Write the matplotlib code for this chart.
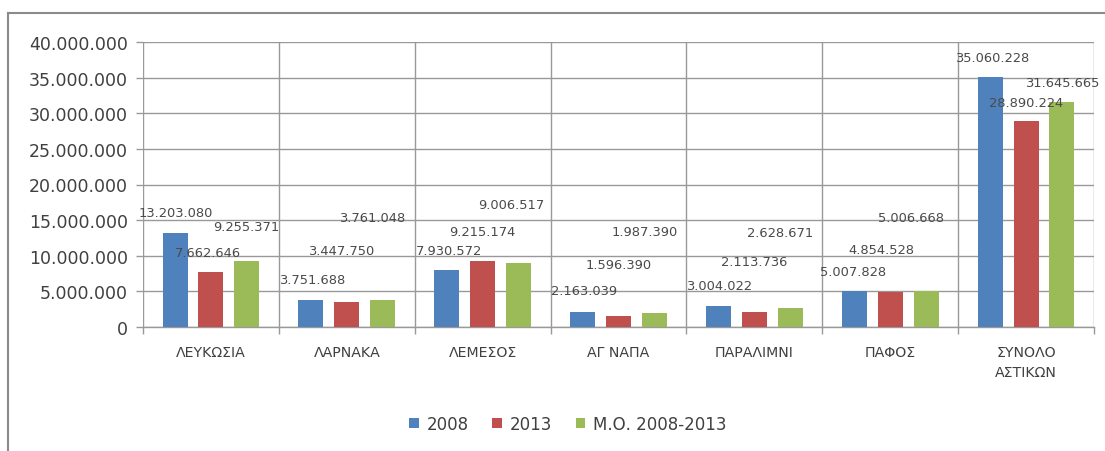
import matplotlib
matplotlib.use("Agg")
import matplotlib.pyplot as plt
from matplotlib.patches import Patch
from matplotlib.lines import Line2D
from matplotlib.ticker import FuncFormatter, MultipleLocator
import numpy as np

plt.rcParams['font.family'] = ['DejaVu Sans']

categories = ["ΛΕΥΚΩΣΙΑ", "ΛΑΡΝΑΚΑ", "ΛΕΜΕΣΟΣ", "ΑΓ ΝΑΠΑ", "ΠΑΡΑΛΙΜΝΙ", "ΠΑΦΟΣ", "ΣΥΝΟΛΟ\nΑΣΤΙΚΩΝ"]
series_names = ["2008", "2013", "Μ.Ο. 2008-2013"]
values_2008 = [13203080, 3751688, 7930572, 2163039, 3004022, 5007828, 35060228]
values_2013 = [7662646, 3447750, 9215174, 1596390, 2113736, 4854528, 28890224]
values_mo = [9255371, 3761048, 9006517, 1987390, 2628671, 5006668, 31645665]

colors = ["#4F81BD", "#C0504D", "#9BBB59"]

# label offsets (pixels) from bar top, as placed in the original
off_2008 = [(1, 20), (1, 21), (2, 20), (1, 21), (1, 20), (-1, 20), (2, 20)]
off_2013 = [(-3, 20), (-6, 52), (0, 30), (0, 51), (0, 50), (-9, 43), (0, 19)]
off_mo = [(-1, 35), (-11, 83), (-7, 58), (-10, 81), (-10, 76), (-15, 74), (0, 19)]


def fmt(v):
    return f"{int(round(v)):,}".replace(",", ".")


fig = plt.figure(figsize=(11.05, 4.52), dpi=100)
ax = fig.add_axes([143 / 1105, 1 - 328 / 452, (1094 - 143) / 1105, (328 - 43) / 452])

x = np.arange(len(categories))
width = 0.184
step = 0.264
all_series = [values_2008, values_2013, values_mo]
all_offsets = [off_2008, off_2013, off_mo]
for i, (vals, offs) in enumerate(zip(all_series, all_offsets)):
    pos = x + (i - 1) * step
    ax.bar(pos, vals, width=width, color=colors[i], zorder=3)
    for px, v, (dx, dy) in zip(pos, vals, offs):
        ax.annotate(fmt(v), xy=(px, v), xytext=(dx, dy), textcoords='offset pixels',
                    ha='center', va='center', fontsize=9.4, color='#4a4a4a', zorder=4)

grid_c = "#999999"
ax.set_ylim(0, 40000000)
ax.set_xlim(-0.5, len(categories) - 0.5)
ax.yaxis.set_major_locator(MultipleLocator(5000000))
ax.yaxis.set_major_formatter(FuncFormatter(lambda v, p: fmt(v)))
ax.grid(axis='y', color=grid_c, linewidth=1.0, zorder=0)
# category separators
ax.set_xticks(np.arange(-0.5, len(categories) + 0.5, 1.0))
ax.set_xticklabels([])
ax.grid(axis='x', color=grid_c, linewidth=1.0, zorder=0)
ax.set_xticks(x, minor=True)
ax.set_xticklabels(categories, minor=True, fontsize=10.2, color='#404040', linespacing=1.5)
ax.tick_params(axis='x', which='minor', length=0, pad=13)
ax.tick_params(axis='x', which='major', length=5, color=grid_c, width=1.0)
ax.tick_params(axis='y', length=5, color=grid_c, width=1.0, labelsize=12.5, pad=6, labelcolor='#404040')
for s in ['top', 'right', 'left']:
    ax.spines[s].set_visible(False)
ax.spines['bottom'].set_color(grid_c)
ax.spines['bottom'].set_linewidth(1.0)

handles = [Patch(facecolor=c, edgecolor='none') for c in colors]
fig.legend(handles, series_names, loc='center', bbox_to_anchor=(568 / 1105, 1 - 425 / 452),
           ncol=3, frameon=False, fontsize=12, handlelength=0.55, handleheight=0.6,
           handletextpad=0.5, columnspacing=1.4, labelcolor='#404040')

# outer chart border (top and left visible)
fig.add_artist(Line2D([8 / 1105, 8 / 1105], [0, 1 - 14 / 452], transform=fig.transFigure,
                      color='#8a8a8a', linewidth=1.5))
fig.add_artist(Line2D([8 / 1105, 1], [1 - 14 / 452, 1 - 14 / 452], transform=fig.transFigure,
                      color='#8a8a8a', linewidth=1.5))

fig.savefig("out.png", dpi=100)
